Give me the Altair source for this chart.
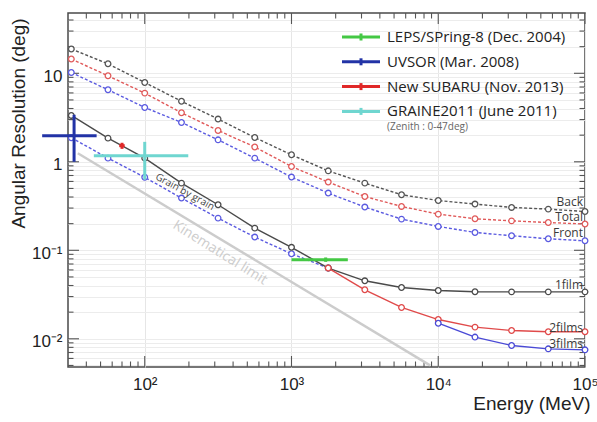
import altair as alt
import pandas as pd

# ---------------------------------------------------------------- data
# Energy grid of the simulated resolution curves (MeV)
energy = [31.6, 56.2, 100, 178, 316, 562, 1000, 1780, 3160, 5620,
          10000, 17800, 31600, 56200, 100000]

# Angular resolution (deg) of the gamma-ray telescope, dotted curves
back = [18.8, 12.8, 7.87, 4.83, 3.04, 1.88, 1.20, 0.79, 0.574, 0.424,
        0.365, 0.333, 0.305, 0.292, 0.274]
total = [14.5, 9.37, 5.97, 3.58, 2.26, 1.47, 0.885, 0.590, 0.405, 0.313,
         0.256, 0.227, 0.215, 0.206, 0.198]
front = [10.2, 6.51, 4.11, 2.78, 1.77, 1.10, 0.672, 0.443, 0.308, 0.225,
         0.186, 0.159, 0.146, 0.135, 0.128]

# Converter film curves
one_film = [3.34, 1.85, 1.10, 0.574, 0.327, 0.178, 0.108, 0.063, 0.0452,
            0.0380, 0.0351, 0.0340, 0.0339, 0.0339, 0.0339]
grain_energy = [31.6, 56.2, 100, 178, 316, 562, 1000, 1780]
grain = [1.87, 1.10, 0.668, 0.389, 0.231, 0.141, 0.0913, 0.063]
two_energy = [1780, 3160, 5620, 10000, 17800, 31600, 56200, 100000]
two_films = [0.063, 0.0358, 0.0226, 0.0165, 0.01355, 0.0124, 0.0120, 0.0120]
three_energy = [10000, 17800, 31600, 56200, 100000]
three_films = [0.0150, 0.01045, 0.0084, 0.0077, 0.0075]

# Kinematical limit (end points of the straight line in log-log)
kin_energy = [35, 8800]
kin_theta = [1.25, 0.005]

# Beam tests and balloon flight: centre and extent of each measurement
exp_names = ["LEPS/SPring-8 (Dec. 2004)", "UVSOR (Mar. 2008)",
             "New SUBARU (Nov. 2013)", "GRAINE2011 (June 2011)"]
exp_energy = [1710, 33, 70, 100]
exp_e_lo = [1000, 20, 67, 45]
exp_e_hi = [2420, 47, 73, 198]
exp_theta = [0.078, 1.97, 1.52, 1.17]
exp_t_lo = [0.074, 1.0, 1.40, 0.63]
exp_t_hi = [0.083, 3.4, 1.64, 1.68]
exp_colors = ["#44c844", "#2233a6", "#e02828", "#6fd6d0"]

# Axis ticks
x_major = [100, 1000, 10000, 100000]
x_minor = [m * 10 ** k for k in range(1, 5) for m in range(2, 10)
           if 30 < m * 10 ** k < 100000]
y_major = [0.01, 0.1, 1, 10]
y_minor = [m * 10.0 ** k for k in range(-3, 2) for m in range(2, 10)
           if 0.0048 < m * 10.0 ** k < 48]
x_labels = {100: "10²", 1000: "10³", 10000: "10⁴", 100000: "10⁵"}
y_labels = {0.01: "10⁻²", 0.1: "10⁻¹", 1: "1", 10: "10"}

# ---------------------------------------------------------------- layout
W, H = 517, 354
AXIS_FONT = "Liberation Sans"
TEXT_FONT = "Open Sans"
INK = "#222222"


def label_expr(mapping):
    expr = "''"
    for v, s in reversed(list(mapping.items())):
        expr = f"datum.value == {v} ? '{s}' : ({expr})"
    return expr


xs = alt.Scale(type="log", domain=[30, 100000])
ys = alt.Scale(type="log", domain=[0.0048, 48])

x_axis = alt.Axis(
    values=x_major, labelExpr=label_expr(x_labels), title="Energy (MeV)",
    grid=True, gridColor="#e6e6e6", ticks=False, domain=False,
    labelFont=AXIS_FONT, labelFontSize=17, labelColor=INK, labelPadding=9,
    labelFlush=False, labelOverlap=False,
    titleFont=AXIS_FONT, titleFontSize=19, titleFontWeight="normal",
    titleColor=INK, titleAlign="right", titleBaseline="middle",
    titleX=W + 5, titleY=36,
)
y_axis = alt.Axis(
    values=y_major + y_minor, labelExpr=label_expr(y_labels),
    title="Angular Resolution (deg)",
    grid=True, gridColor="#ececec", ticks=False, domain=False,
    labelFont=AXIS_FONT, labelFontSize=17, labelColor=INK, labelPadding=6,
    labelOffset=3, labelOverlap=False,
    titleFont=AXIS_FONT, titleFontSize=19, titleFontWeight="normal",
    titleColor=INK, titleAngle=-90, titleAlign="center",
    titleBaseline="middle", titleX=-50, titleY=110,
)


def X(field):
    return alt.X(field, type="quantitative", scale=xs, axis=x_axis)


def Y(field):
    return alt.Y(field, type="quantitative", scale=ys, axis=y_axis)


layers = []

# Inward-pointing ticks on all four sides of the frame
TICK_COLOR = "#555555"
for vals, length in ((x_major, 11), (x_minor, 5.5)):
    df = pd.DataFrame({"v": vals})
    for y0 in (0, H - length):
        layers.append(alt.Chart(df).mark_rule(color=TICK_COLOR, strokeWidth=1.1).encode(
            x=X("v"), y=alt.value(y0), y2=alt.value(y0 + length)))
for vals, length in ((y_major, 11), (y_minor, 5.5)):
    df = pd.DataFrame({"v": vals})
    for x0 in (0, W - length):
        layers.append(alt.Chart(df).mark_rule(color=TICK_COLOR, strokeWidth=1.1).encode(
            y=Y("v"), x=alt.value(x0), x2=alt.value(x0 + length)))

# Kinematical limit
kin = pd.DataFrame({"E": kin_energy, "theta": kin_theta})
layers.append(alt.Chart(kin).mark_line(color="#cccccc", strokeWidth=2.5).encode(
    x=X("E"), y=Y("theta")))

# Resolution curves
curves = [
    ("Back", energy, back, "#555555", True),
    ("Total", energy, total, "#e05a5a", True),
    ("Front", energy, front, "#5a5ae0", True),
    ("Grain by grain", grain_energy, grain, "#5a5ae0", True),
    ("1film", energy, one_film, "#4a4a4a", False),
    ("2films", two_energy, two_films, "#e04a4a", False),
    ("3films", three_energy, three_films, "#4a4ad6", False),
]
for name, e, v, col, dashed in curves:
    df = pd.DataFrame({"E": e, "theta": v})
    line_kw = dict(color=col, strokeWidth=1.4)
    if dashed:
        line_kw["strokeDash"] = [3, 2]
    layers.append(alt.Chart(df).mark_line(**line_kw).encode(x=X("E"), y=Y("theta")))
    layers.append(alt.Chart(df).mark_point(
        shape="circle", size=32, fill="white", stroke=col, strokeWidth=1.3,
        opacity=1).encode(x=X("E"), y=Y("theta")))

# Curve names at the right-hand end of each curve
end_label_dy = {"Back": -10, "Total": -7, "Front": -8,
                "1film": -7, "2films": -4, "3films": -6}
for name, e, v, col, dashed in curves:
    if name not in end_label_dy:
        continue
    df = pd.DataFrame({"E": [e[-1]], "theta": [v[-1]], "label": [name]})
    layers.append(alt.Chart(df).mark_text(
        align="right", baseline="middle", dx=-2, dy=end_label_dy[name],
        font=TEXT_FONT, fontSize=12, color="#3a3a3a").encode(
        x=X("E"), y=Y("theta"), text="label:N"))

# Grain-by-grain and kinematical-limit annotations
df = pd.DataFrame({"E": [grain_energy[3]], "theta": [grain[3]], "label": ["Grain by grain"]})
layers.append(alt.Chart(df).mark_text(
    align="center", baseline="middle", angle=29, dy=-7,
    font=TEXT_FONT, fontSize=10, color="#444444").encode(
    x=X("E"), y=Y("theta"), text="label:N"))
df = pd.DataFrame({"E": [360], "theta": [0.122], "label": ["Kinematical limit"]})
layers.append(alt.Chart(df).mark_text(
    align="center", baseline="middle", angle=32, dy=12,
    font=TEXT_FONT, fontSize=14, color="#cdcdcd").encode(
    x=X("E"), y=Y("theta"), text="label:N"))

# Measurements as error crosses
exp = pd.DataFrame({"name": exp_names, "E": exp_energy, "e_lo": exp_e_lo,
                    "e_hi": exp_e_hi, "theta": exp_theta,
                    "t_lo": exp_t_lo, "t_hi": exp_t_hi})
exp_color = alt.Color("name:N", scale=alt.Scale(domain=exp_names, range=exp_colors),
                      legend=None)
layers.append(alt.Chart(exp).mark_rule(strokeWidth=3).encode(
    x=X("e_lo"), x2="e_hi", y=Y("theta"), color=exp_color))
layers.append(alt.Chart(exp).mark_rule(strokeWidth=3).encode(
    x=X("E"), y=Y("t_lo"), y2="t_hi", color=exp_color))

# Legend box in the upper right corner
one = pd.DataFrame({"k": [0]})
ROW0, ROW_GAP = 24, 24.8
for i, (name, col) in enumerate(zip(exp_names, exp_colors)):
    yv = ROW0 + ROW_GAP * i
    layers.append(alt.Chart(one).mark_rule(color=col, strokeWidth=3).encode(
        x=alt.value(274), x2=alt.value(312), y=alt.value(yv)))
    layers.append(alt.Chart(one).mark_rule(color=col, strokeWidth=3).encode(
        x=alt.value(293), y=alt.value(yv - 3.5), y2=alt.value(yv + 3.5)))
    layers.append(alt.Chart(one).mark_text(
        align="left", baseline="middle", font=TEXT_FONT, fontSize=15,
        color=INK).encode(x=alt.value(319), y=alt.value(yv), text=alt.value(name)))
layers.append(alt.Chart(one).mark_text(
    align="left", baseline="middle", font=TEXT_FONT, fontSize=10,
    color="#666666").encode(x=alt.value(319), y=alt.value(ROW0 + ROW_GAP * 3 + 16),
                            text=alt.value("(Zenith : 0-47deg)")))

chart = alt.layer(*layers).properties(
    width=W, height=H,
    autosize=alt.AutoSizeParams(type="none"),
    padding={"left": 68, "top": 13, "right": 12, "bottom": 55},
    background="white",
).configure_view(stroke="#4a4a4a", strokeWidth=1.5)

chart.save("out.html", embed_options={"renderer": "svg", "actions": False})
